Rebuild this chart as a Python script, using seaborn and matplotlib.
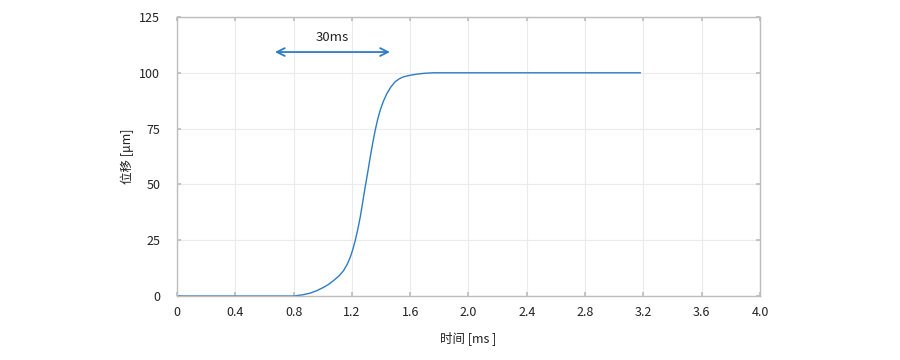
import numpy as np
import pandas as pd
import matplotlib
matplotlib.use("Agg")
import matplotlib.pyplot as plt
import seaborn as sns

# ---- 数据 ----
time_ms = [0, 0.8, 0.86, 0.914, 0.96, 1.006, 1.04, 1.074, 1.11, 1.143, 1.167, 1.189,
           1.206, 1.223, 1.24, 1.257, 1.274, 1.291, 1.309, 1.326, 1.343, 1.36,
           1.377, 1.394, 1.417, 1.44, 1.468, 1.497, 1.525, 1.554, 1.6, 1.646,
           1.7, 1.76, 3.18]
disp_um = [0, 0, 0.5, 1.3, 2.4, 3.9, 5.2, 6.9, 8.9, 11.4, 14.1, 17.4,
           20.8, 24.9, 29.8, 35.3, 42.0, 48.8, 55.6, 62.3, 68.6, 74.3,
           79.2, 83.2, 87.4, 90.7, 93.7, 96.0, 97.3, 98.2, 98.9, 99.4,
           99.8, 100, 100]
x_ticks = [0, 0.4, 0.8, 1.2, 1.6, 2.0, 2.4, 2.8, 3.2, 3.6, 4.0]
x_tick_labels = ["0", "0.4", "0.8", "1.2", "1.6", "2.0", "2.4", "2.8", "3.2", "3.6", "4.0"]
y_ticks = [0, 25, 50, 75, 100, 125]
arrow_span = [0.672, 1.461]
arrow_y = 109.3
arrow_text = "30ms"

df = pd.DataFrame({"t": time_ms, "d": disp_um})

sns.set_theme(style="white")
plt.rcParams['font.family'] = ['Noto Sans CJK SC', 'DejaVu Sans']

fig = plt.figure(figsize=(9, 3.6), dpi=100)
ax = fig.add_axes([0.1967, 0.1778, 0.6477, 0.775])

sns.lineplot(data=df, x="t", y="d", ax=ax, color="#2e7bc4", linewidth=1.0)

ax.set_xlim(0, 4.0)
ax.set_ylim(0, 125)
ax.set_xticks(x_ticks)
ax.set_xticklabels(x_tick_labels)
ax.set_yticks(y_ticks)
ax.grid(True, color="#ebebeb", linewidth=0.8)
for s in ax.spines.values():
    s.set_color("#bdbdbd")
    s.set_linewidth(1.0)
ax.tick_params(axis="both", direction="in", length=3, color="#bdbdbd",
               labelsize=9, labelcolor="#222222", top=True, right=True,
               bottom=True, left=True)
ax.tick_params(axis="y", pad=12)
ax.tick_params(axis="x", pad=7)

ax.set_xlabel("时间 [ms ]", fontsize=9, color="#222222", labelpad=9)
ax.set_ylabel("位移 [μm]", fontsize=9, color="#222222", labelpad=4)

# 30ms 双向箭头
ax.annotate("", xy=(arrow_span[1], arrow_y), xytext=(arrow_span[0], arrow_y),
            arrowprops=dict(arrowstyle="<->", color="#2e7bc4", lw=1.3,
                            mutation_scale=14, shrinkA=0, shrinkB=0))
ax.text(sum(arrow_span) / 2, 115.6, arrow_text, ha="center", va="center",
        fontsize=9.5, color="#222222")

fig.savefig("out.png", dpi=100)
